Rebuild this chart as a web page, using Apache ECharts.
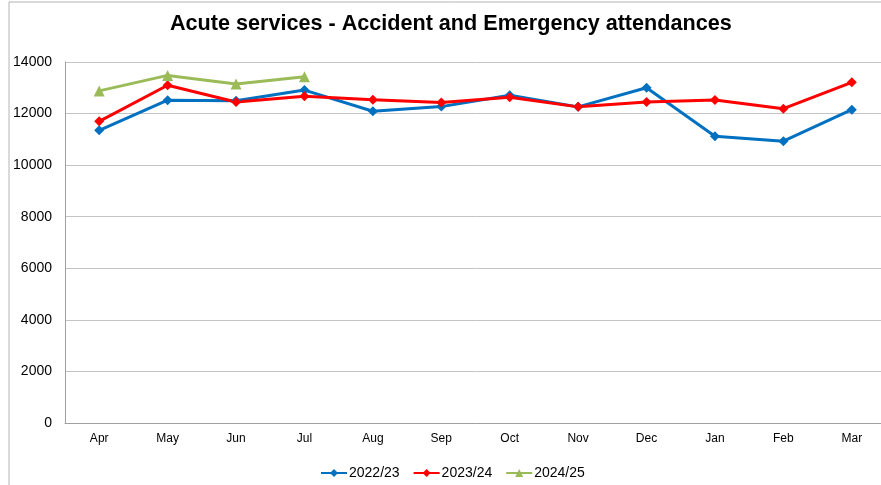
<!DOCTYPE html>
<html>
<head>
<meta charset="utf-8">
<script src="https://cdn.jsdelivr.net/npm/echarts@6/dist/echarts.min.js"></script>
<style>
  html, body { margin: 0; padding: 0; background: #fff; overflow: hidden; }
  #chart { width: 892px; height: 485px; }
</style>
</head>
<body>
<div id="chart"></div>
<script>
// Months of the financial year (April to March)
const months = ['Apr', 'May', 'Jun', 'Jul', 'Aug', 'Sep', 'Oct', 'Nov', 'Dec', 'Jan', 'Feb', 'Mar'];

// Monthly A&E attendances per financial year
const fy2022 = [11350, 12520, 12500, 12910, 12090, 12270, 12710, 12260, 13000, 11120, 10930, 12150];
const fy2023 = [11700, 13100, 12450, 12670, 12540, 12430, 12630, 12260, 12450, 12530, 12190, 13210];
const fy2024 = [12880, 13480, 13150, 13430];

const seriesNames = ['2022/23', '2023/24', '2024/25'];
const seriesColors = ['#0070C0', '#FF0000', '#9BBB59'];

const yTicks = { min: 0, max: 14000, interval: 2000 };

const chart = echarts.init(document.getElementById('chart'), null, { renderer: 'canvas' });

const font = 'Liberation Sans, Arial, sans-serif';

function lineSeries(name, data, color, symbol, size) {
  return {
    name: name,
    type: 'line',
    data: data,
    symbol: symbol,
    symbolSize: size,
    showSymbol: true,
    lineStyle: { color: color, width: 3 },
    itemStyle: { color: color },
    emphasis: { disabled: true },
    animation: false
  };
}

chart.setOption({
  backgroundColor: '#fff',
  animation: false,
  title: {
    text: 'Acute services - Accident and Emergency attendances',
    left: 165,
    top: 8,
    textStyle: { fontFamily: font, fontSize: 21.6, fontWeight: 'bold', color: '#000' }
  },
  legend: {
    bottom: 0,
    left: 315,
    itemWidth: 26,
    itemHeight: 10,
    itemGap: 13,
    textStyle: { fontFamily: font, fontSize: 14, color: '#000', padding: [0, 0, 0, -3] },
    data: seriesNames
  },
  graphic: [{
    type: 'polyline',
    shape: { points: [[9, 485], [9, 2], [892, 2]] },
    style: { stroke: '#b4b4b4', lineWidth: 1, fill: null },
    silent: true
  }],
  grid: { left: 65, top: 62, width: 821, height: 361, containLabel: false },
  xAxis: {
    type: 'category',
    data: months,
    boundaryGap: true,
    axisLine: { lineStyle: { color: '#a0a0a0', width: 1 } },
    axisTick: { show: false },
    axisLabel: { fontFamily: font, fontSize: 12, color: '#000', margin: 10 },
    splitLine: { show: false }
  },
  yAxis: {
    type: 'value',
    min: yTicks.min,
    max: yTicks.max,
    interval: yTicks.interval,
    axisLine: { show: true, lineStyle: { color: '#a0a0a0', width: 1 } },
    axisTick: { show: false },
    axisLabel: {
      fontFamily: font, fontSize: 14, color: '#000', margin: 13,
      formatter: function (v) { return String(v); }
    },
    splitLine: { show: true, lineStyle: { color: '#c4c4c4', width: 1 } }
  },
  series: [
    lineSeries(seriesNames[0], fy2022, seriesColors[0], 'diamond', 10),
    lineSeries(seriesNames[1], fy2023, seriesColors[1], 'diamond', 10),
    lineSeries(seriesNames[2], fy2024, seriesColors[2], 'triangle', 11)
  ]
});
</script>
</body>
</html>
